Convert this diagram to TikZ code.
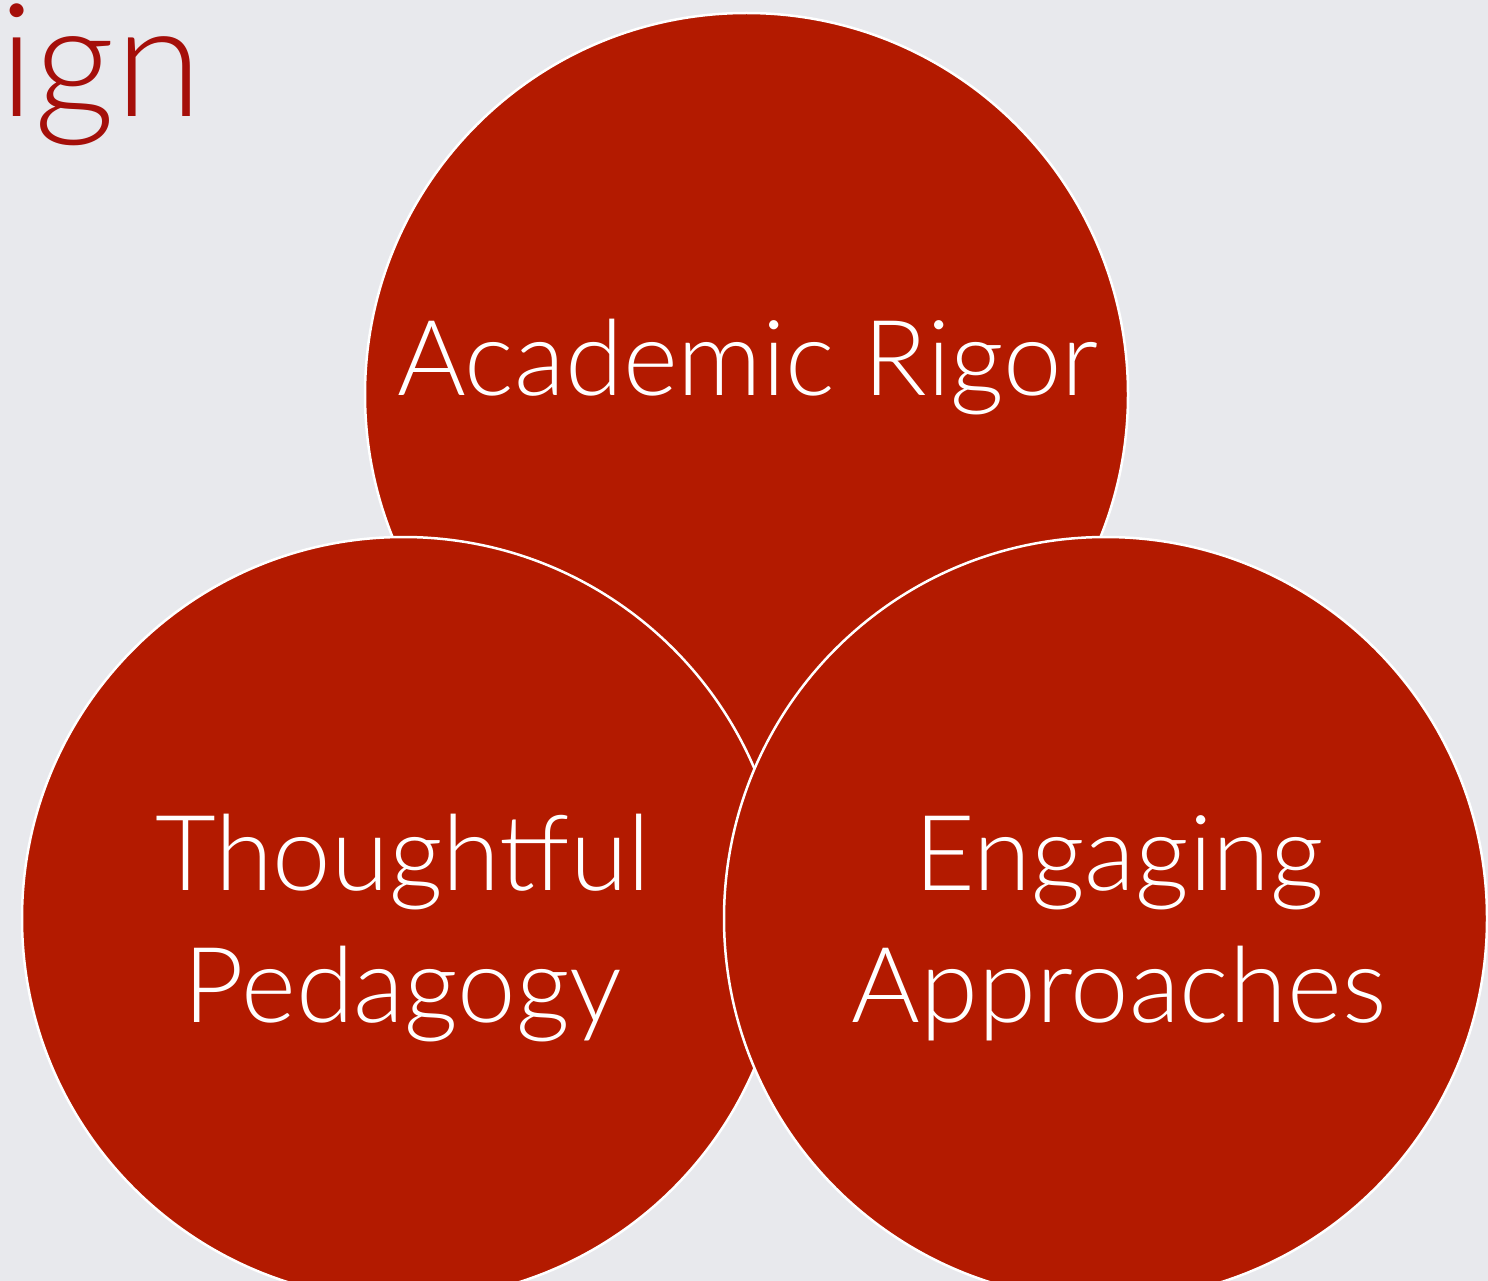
\documentclass[tikz,border=0pt]{standalone}
\usepackage{fontspec}
\setmainfont{Lato}[UprightFont=* Light]
\definecolor{bg}{HTML}{E8E9ED}
\definecolor{circred}{HTML}{B31A00}
\definecolor{titlered}{HTML}{A50F0A}
\tikzset{
  circ/.style={circle, fill=circred, draw=white, line width=2.5pt, minimum size=763pt, inner sep=0pt},
  lbl/.style={text=white, align=center, font=\fontsize{105}{132}\selectfont, inner sep=0pt},
}
\begin{document}
\begin{tikzpicture}[x=1pt,y=-1pt]
\fill[bg] (0,0) rectangle (1488,1281);
\useasboundingbox (0,0) rectangle (1488,1281);
\node[circ] (rigor) at (746.5,394.5) {};
\node[circ] (ped) at (403.5,918.5) {};
\node[circ] (eng) at (1105.5,918.5) {};
\node[lbl, anchor=base] (trigor) at (748,395) {Academic Rigor};
\node[lbl, anchor=base] (tped) at (403,1022) {Thoughtful\\Pedagogy};
\node[lbl, anchor=base] (teng) at (1119,1022) {Engaging\\Approaches};
\node[anchor=base west, inner sep=0pt, text=titlered, font=\fontsize{158}{158}\selectfont] (title) at (-1,117) {ign};
\end{tikzpicture}
\end{document}
